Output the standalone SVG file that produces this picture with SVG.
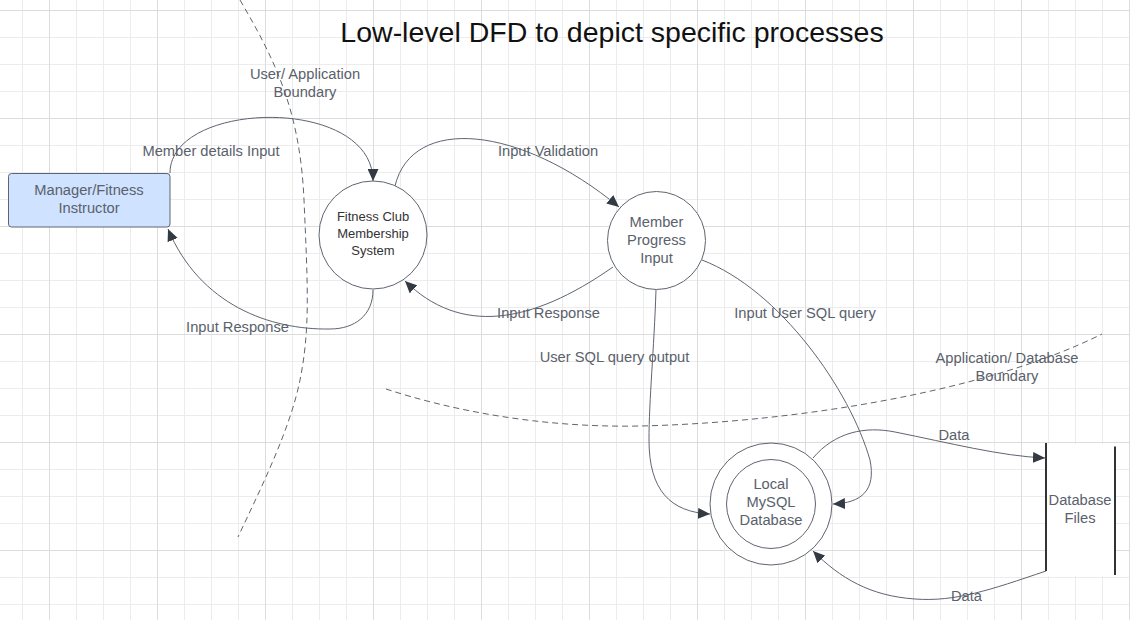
<svg xmlns="http://www.w3.org/2000/svg" width="1130" height="620" viewBox="0 0 1130 620">
<defs>
<pattern id="grid" patternUnits="userSpaceOnUse" x="49" y="10" width="108" height="108">
<path d="M27.5,0V108M54.5,0V108M81.5,0V108M0,27.5H108M0,54.5H108M0,81.5H108" stroke="#ececec" stroke-width="1" fill="none"/>
<path d="M0.5,0V108M0,0.5H108" stroke="#dcdcdc" stroke-width="1" fill="none"/>
</pattern>
<marker id="arr" markerUnits="userSpaceOnUse" markerWidth="13" markerHeight="11" refX="12" refY="5.5" orient="auto">
<path d="M0,0 L12,5.5 L0,11 Z" fill="#333a44"/>
</marker>
<style>
.lbl{font-family:"Liberation Sans",Arial,sans-serif;font-size:14.7px;fill:#5a616b;text-anchor:middle}
.ntxt{font-family:"Liberation Sans",Arial,sans-serif;font-size:14.7px;fill:#5a616b;text-anchor:middle}
.dark{font-family:"Liberation Sans",Arial,sans-serif;font-size:13px;fill:#333;text-anchor:middle}
.conn{fill:none;stroke:#5e6570;stroke-width:1}
.arrow{marker-end:url(#arr)}
.bound{fill:none;stroke:#5e6570;stroke-width:1;stroke-dasharray:6 4}
.node{fill:#fff;stroke:#5e6570;stroke-width:1}
</style>
</defs>
<rect x="0" y="0" width="1130" height="620" fill="#fff"/>
<rect x="0" y="0" width="1130" height="620" fill="url(#grid)"/>

<text x="612" y="41.5" style="font-family:'Liberation Sans',Arial,sans-serif;font-size:28.5px;fill:#111;text-anchor:middle">Low-level DFD to depict specific processes</text>

<g id="boundaries">
<path class="bound" d="M240,0 C275,60 300,110 304,200 C308,290 310,330 300,380 C290,430 260,490 238,537"/>
<path class="bound" d="M386,389 C450,410 540,428 640,426 C780,423 980,395 1102,334"/>
</g>

<g id="connectors">
<path class="conn arrow" d="M170,173 C170,100 373,95 373,181"/>
<path class="conn arrow" d="M373,290 C373,315 355,329 330,329 C270,330 200,305 168,229"/>
<path class="conn arrow" d="M395,186 C412,115 520,125 619,207"/>
<path class="conn arrow" d="M613,267 C530,325 460,335 405,281"/>
<path class="conn arrow" d="M656,290 C654,350 649,400 649,440 C649,490 670,512 710,514"/>
<path class="conn arrow" d="M702,260 C780,290 850,390 870,460 C876,490 862,503 833,504"/>
<path class="conn arrow" d="M813,458 C835,432 865,426 895,432 C950,443 1000,456 1045,458"/>
<path class="conn arrow" d="M1046,571 C990,590 955,602 915,599 C870,596 840,578 813,551"/>
</g>

<g id="labels">
<text class="lbl" x="305" y="79">User/ Application</text>
<text class="lbl" x="305" y="97">Boundary</text>
<text class="lbl" x="211" y="156">Member details Input</text>
<text class="lbl" x="237.5" y="331.5">Input Response</text>
<text class="lbl" x="548" y="156">Input Validation</text>
<text class="lbl" x="548.5" y="318">Input Response</text>
<text class="lbl" x="805" y="318">Input User SQL query</text>
<text class="lbl" x="614.5" y="362">User SQL query output</text>
<text class="lbl" x="1007" y="363">Application/ Database</text>
<text class="lbl" x="1007" y="381">Boundary</text>
<text class="lbl" x="954" y="439.5">Data</text>
<text class="lbl" x="966.5" y="601">Data</text>
</g>

<g id="manager">
<rect x="8.5" y="173.5" width="161.5" height="53.5" rx="3" fill="#cfe2ff" stroke="#5e6570" stroke-width="1"/>
<text class="ntxt" x="89" y="194.5">Manager/Fitness</text>
<text class="ntxt" x="89" y="212.5">Instructor</text>
</g>

<g id="fitness-club">
<circle class="node" cx="373" cy="235" r="54"/>
<text class="dark" x="373" y="221">Fitness Club</text>
<text class="dark" x="373" y="238">Membership</text>
<text class="dark" x="373" y="254.5">System</text>
</g>

<g id="member-progress">
<circle class="node" cx="656.5" cy="240.5" r="49"/>
<text class="ntxt" x="656.5" y="227">Member</text>
<text class="ntxt" x="656.5" y="245">Progress</text>
<text class="ntxt" x="656.5" y="263">Input</text>
</g>

<g id="mysql">
<circle class="node" cx="771" cy="504" r="61"/>
<circle class="node" cx="771" cy="504" r="44.5"/>
<text class="ntxt" x="771" y="488.5">Local</text>
<text class="ntxt" x="771" y="506.5">MySQL</text>
<text class="ntxt" x="771" y="524.5">Database</text>
</g>

<g id="database-files">
<rect x="1046" y="444" width="69" height="132" fill="#fff"/>
<line x1="1046" y1="443" x2="1046" y2="571" stroke="#333" stroke-width="2"/>
<line x1="1115" y1="446.5" x2="1115" y2="575" stroke="#333" stroke-width="2"/>
<text class="ntxt" x="1080" y="505">Database</text>
<text class="ntxt" x="1080" y="523">Files</text>
</g>
</svg>
